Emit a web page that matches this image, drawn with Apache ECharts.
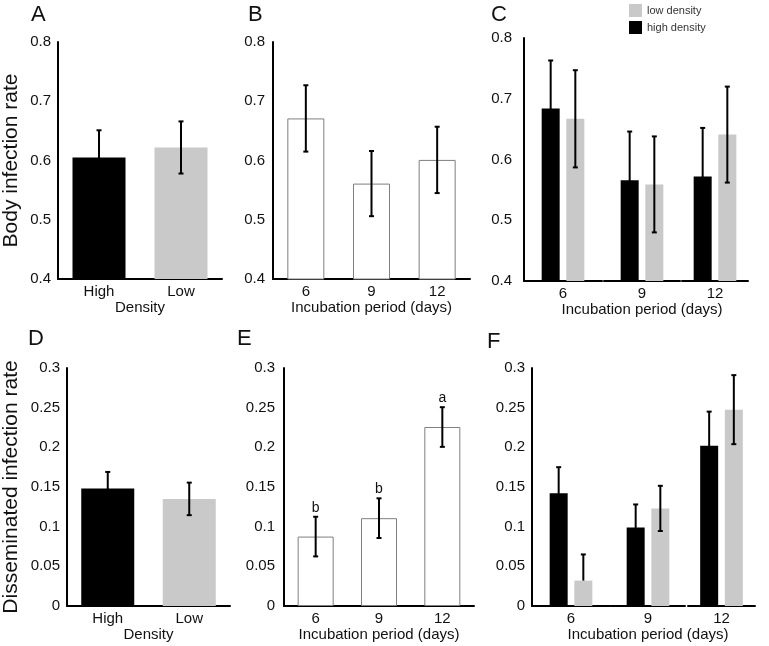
<!DOCTYPE html>
<html>
<head>
<meta charset="utf-8">
<script src="https://cdn.jsdelivr.net/npm/echarts@6/dist/echarts.min.js"></script>
<style>
html,body{margin:0;padding:0;background:#fff;}
#chart{width:769px;height:646px;}
</style>
</head>
<body>
<div id="chart"></div>
<script>
// ---------- data ----------
const densityCats = ['High', 'Low'];
const periodCats = ['6', '9', '12'];

const bodyDensity = [0.605, 0.622];
const bodyDensityErr = [0.046, 0.044];
const bodyPeriod = [0.671, 0.561, 0.601];
const bodyPeriodErr = [0.056, 0.055, 0.056];
const bodyHigh = [0.684, 0.566, 0.572];
const bodyHighErr = [0.079, 0.080, 0.080];
const bodyLow = [0.667, 0.559, 0.641];
const bodyLowErr = [0.080, 0.079, 0.079];

const dissDensity = [0.148, 0.135];
const dissDensityErr = [0.021, 0.0205];
const dissPeriod = [0.0875, 0.1107, 0.2256];
const dissPeriodErr = [0.025, 0.025, 0.025];
const dissLetters = ['b', 'b', 'a'];
const dissHigh = [0.142, 0.099, 0.202];
const dissHighErr = [0.033, 0.029, 0.043];
const dissLow = [0.032, 0.123, 0.2475];
const dissLowErrUp = [0.033, 0.0285, 0.0435];
const dissLowErrDown = [0, 0.0285, 0.0435];

const bodyTicks = {min: 0.4, max: 0.8, interval: 0.1};
const dissTicks = {min: 0, max: 0.3, interval: 0.05};

const panelLetters = ['A', 'B', 'C', 'D', 'E', 'F'];
const legendNames = ['low density', 'high density'];

// ---------- styles ----------
const FONT = 'Liberation Sans, Arial, sans-serif';
const BLACK = '#000000';
const GRAY = '#c9c9c9';
const TXT = '#111111';
const GROUP_BAR_W = 18;
const GROUP_GAP = 0.37;
const GROUP_OFF = GROUP_BAR_W * (1 + GROUP_GAP) / 2;

const grids = [
  {left: 57, top: 42, width: 165, height: 237},   // 0 A
  {left: 273, top: 42, width: 197, height: 237},  // 1 B
  {left: 524, top: 38, width: 78, height: 243},   // 2 C1
  {left: 604, top: 38, width: 76, height: 243},   // 3 C2
  {left: 682, top: 38, width: 66, height: 243},   // 4 C3
  {left: 67, top: 368, width: 163, height: 238},  // 5 D
  {left: 284, top: 368, width: 190, height: 238}, // 6 E
  {left: 532, top: 368, width: 78, height: 238},  // 7 F1
  {left: 611, top: 368, width: 74, height: 238},  // 8 F2
  {left: 688, top: 368, width: 67, height: 238}   // 9 F3
];

const axisLine = {show: true, lineStyle: {color: BLACK, width: 2}};

function xAx(gi, cats, name) {
  return {
    type: 'category', gridIndex: gi, data: cats,
    axisLine: axisLine, axisTick: {show: false},
    axisLabel: {fontSize: 15, color: TXT, fontFamily: FONT, margin: 5},
    name: name || '', nameLocation: 'middle', nameGap: 21,
    nameTextStyle: {fontSize: 15, color: TXT, fontFamily: FONT}
  };
}
function yAx(gi, ticks, show, name, nameGap, labelMargin) {
  return {
    type: 'value', gridIndex: gi, min: ticks.min, max: ticks.max, interval: ticks.interval,
    show: show,
    axisLine: axisLine, axisTick: {show: false}, splitLine: {show: false},
    axisLabel: {fontSize: 15, color: TXT, fontFamily: FONT, margin: labelMargin || 7},
    name: name || '', nameLocation: 'middle', nameGap: nameGap || 30,
    nameTextStyle: {fontSize: 21, color: TXT, fontFamily: FONT}
  };
}

function errRender(offset, letters) {
  return function (params, api) {
    const c = api.value(0), v = api.value(1), lo = api.value(2), hi = api.value(3);
    const pt = api.coord([c, v + hi]);
    const pb = api.coord([c, v - lo]);
    const x = pt[0] + offset;
    const st = {stroke: BLACK, lineWidth: 2};
    const cap = 2.5;
    const ch = [
      {type: 'line', shape: {x1: x, y1: pt[1], x2: x, y2: pb[1]}, style: st},
      {type: 'line', shape: {x1: x - cap, y1: pt[1], x2: x + cap, y2: pt[1]}, style: st}
    ];
    if (lo > 0) ch.push({type: 'line', shape: {x1: x - cap, y1: pb[1], x2: x + cap, y2: pb[1]}, style: st});
    if (letters) {
      ch.push({type: 'text', style: {text: letters[params.dataIndex], x: x, y: pt[1] - 2,
        align: 'center', verticalAlign: 'bottom', font: '14px ' + FONT, fill: TXT}});
    }
    return {type: 'group', children: ch};
  };
}

function errSeries(gi, vals, lows, highs, offset, letters) {
  const data = vals.map((v, i) => [i, v, lows[i], highs[i]]);
  return {
    type: 'custom', xAxisIndex: gi, yAxisIndex: gi, z: 5, clip: false,
    encode: {x: 0, y: 1},
    renderItem: errRender(offset, letters), data: data, silent: true
  };
}

const xAxes = [], yAxes = [], series = [];

// A
xAxes.push(xAx(0, densityCats, 'Density'));
yAxes.push(yAx(0, bodyTicks, true, 'Body infection rate', 36, 7));
series.push({type: 'bar', xAxisIndex: 0, yAxisIndex: 0, barWidth: 53,
  data: bodyDensity.map((v, i) => ({value: v, itemStyle: {color: i === 0 ? BLACK : GRAY}}))});
series.push(errSeries(0, bodyDensity, bodyDensityErr, bodyDensityErr, 0));

// B
xAxes.push(xAx(1, periodCats, 'Incubation period (days)'));
yAxes.push(yAx(1, bodyTicks, true, '', 30, 8));
series.push({type: 'bar', xAxisIndex: 1, yAxisIndex: 1, barWidth: 37, data: bodyPeriod,
  itemStyle: {color: '#ffffff', borderColor: '#7f7f7f', borderWidth: 1}});
series.push(errSeries(1, bodyPeriod, bodyPeriodErr, bodyPeriodErr, 0));

// C (three groups)
for (let i = 0; i < 3; i++) {
  const gi = 2 + i;
  xAxes.push(xAx(gi, [periodCats[i]], i === 1 ? 'Incubation period (days)' : ''));
  yAxes.push(yAx(gi, bodyTicks, i === 0, '', 30, 12));
  series.push({name: 'high density', type: 'bar', xAxisIndex: gi, yAxisIndex: gi,
    barWidth: GROUP_BAR_W, barGap: (GROUP_GAP * 100) + '%', itemStyle: {color: BLACK}, data: [bodyHigh[i]]});
  series.push({name: 'low density', type: 'bar', xAxisIndex: gi, yAxisIndex: gi,
    barWidth: GROUP_BAR_W, barGap: (GROUP_GAP * 100) + '%', itemStyle: {color: GRAY}, data: [bodyLow[i]]});
  series.push(errSeries(gi, [bodyHigh[i]], [bodyHighErr[i]], [bodyHighErr[i]], -GROUP_OFF));
  series.push(errSeries(gi, [bodyLow[i]], [bodyLowErr[i]], [bodyLowErr[i]], GROUP_OFF));
}

// D
xAxes.push(xAx(5, densityCats, 'Density'));
yAxes.push(yAx(5, dissTicks, true, 'Disseminated infection rate', 45, 7));
series.push({type: 'bar', xAxisIndex: 5, yAxisIndex: 5, barWidth: 53,
  data: dissDensity.map((v, i) => ({value: v, itemStyle: {color: i === 0 ? BLACK : GRAY}}))});
series.push(errSeries(5, dissDensity, dissDensityErr, dissDensityErr, 0));

// E
xAxes.push(xAx(6, periodCats, 'Incubation period (days)'));
yAxes.push(yAx(6, dissTicks, true, '', 30, 9));
series.push({type: 'bar', xAxisIndex: 6, yAxisIndex: 6, barWidth: 36, data: dissPeriod,
  itemStyle: {color: '#ffffff', borderColor: '#7f7f7f', borderWidth: 1}});
series.push(errSeries(6, dissPeriod, dissPeriodErr, dissPeriodErr, 0, dissLetters));

// F (three groups)
for (let i = 0; i < 3; i++) {
  const gi = 7 + i;
  xAxes.push(xAx(gi, [periodCats[i]], i === 1 ? 'Incubation period (days)' : ''));
  yAxes.push(yAx(gi, dissTicks, i === 0, '', 30, 7));
  series.push({name: 'high density', type: 'bar', xAxisIndex: gi, yAxisIndex: gi,
    barWidth: GROUP_BAR_W, barGap: (GROUP_GAP * 100) + '%', itemStyle: {color: BLACK}, data: [dissHigh[i]]});
  series.push({name: 'low density', type: 'bar', xAxisIndex: gi, yAxisIndex: gi,
    barWidth: GROUP_BAR_W, barGap: (GROUP_GAP * 100) + '%', itemStyle: {color: GRAY}, data: [dissLow[i]]});
  series.push(errSeries(gi, [dissHigh[i]], [dissHighErr[i]], [dissHighErr[i]], -GROUP_OFF));
  series.push(errSeries(gi, [dissLow[i]], [dissLowErrDown[i]], [dissLowErrUp[i]], GROUP_OFF));
}

const letterPos = [[26, -1], [243, -1], [486, -1], [23, 323], [232, 323], [482, 326]];
const titles = panelLetters.map((t, i) => ({
  text: t, left: letterPos[i][0], top: letterPos[i][1],
  textStyle: {fontSize: 22, fontWeight: 'normal', color: TXT, fontFamily: FONT}
}));

const chart = echarts.init(document.getElementById('chart'), null, {renderer: 'canvas'});
chart.setOption({
  animation: false,
  backgroundColor: '#ffffff',
  title: titles,
  legend: {
    data: legendNames, orient: 'vertical', left: 624, top: -1,
    itemWidth: 13, itemHeight: 13, itemGap: 4, icon: 'rect',
    textStyle: {fontSize: 11, color: '#333', fontFamily: FONT}, selectedMode: false
  },
  grid: grids,
  xAxis: xAxes,
  yAxis: yAxes,
  series: series
});
</script>
</body>
</html>
